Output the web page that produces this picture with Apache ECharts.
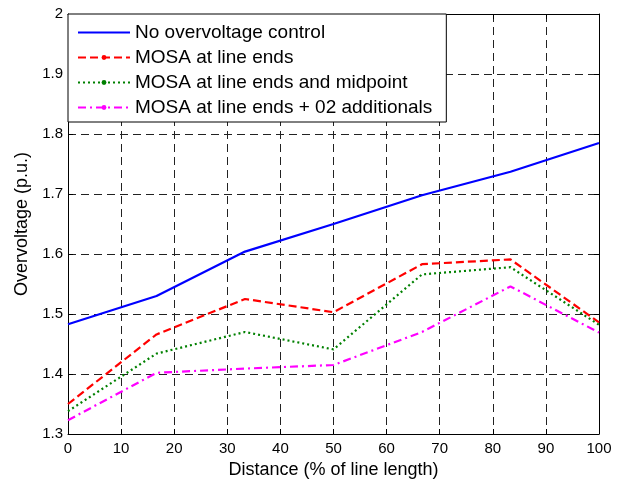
<!DOCTYPE html>
<html>
<head>
<meta charset="utf-8">
<script src="https://cdn.jsdelivr.net/npm/echarts@6/dist/echarts.min.js"></script>
<style>
  html, body { margin: 0; padding: 0; background: #fff; }
  #chart { width: 624px; height: 486px; }
</style>
</head>
<body>
<div id="chart"></div>
<script>
// Distance along the line (% of line length) for each measuring point
const distances = [0, 16.67, 33.33, 50, 66.67, 83.33, 100];

// Peak overvoltage (p.u.) per protection scheme
const noControl      = [1.483, 1.530, 1.604, 1.650, 1.698, 1.737, 1.785];
const mosaEnds       = [1.350, 1.466, 1.525, 1.503, 1.583, 1.591, 1.486];
const mosaEndsMid    = [1.338, 1.434, 1.470, 1.441, 1.566, 1.578, 1.482];
const mosaEndsPlus2  = [1.323, 1.402, 1.409, 1.415, 1.470, 1.546, 1.469];

const seriesNames = [
  'No overvoltage control',
  'MOSA at line ends',
  'MOSA at line ends and midpoint',
  'MOSA at line ends + 02 additionals'
];

const FONT = '"Liberation Sans", Arial, sans-serif';

function pairs(ys) {
  return distances.map((x, i) => [x, ys[i]]);
}

const gridDash = { color: '#222', width: 1, type: [8, 5] };

const chart = echarts.init(document.getElementById('chart'), null, { renderer: 'canvas' });

chart.setOption({
  animation: false,
  backgroundColor: '#fff',
  textStyle: { fontFamily: FONT, color: '#000' },
  grid: { left: 68, right: 25, top: 14, bottom: 52, containLabel: false },
  legend: {
    orient: 'vertical',
    left: 68,
    top: 14,
    padding: [9, 14, 5, 9],
    itemWidth: 52,
    itemHeight: 6,
    itemGap: 6,
    backgroundColor: '#fff',
    borderColor: '#000',
    borderWidth: 1,
    borderRadius: 0,
    textStyle: { fontFamily: FONT, fontSize: 19, color: '#000' },
    data: [
      // the solid line has no marker in its key
      { name: seriesNames[0], itemStyle: { opacity: 0 } },
      { name: seriesNames[1] },
      { name: seriesNames[2] },
      { name: seriesNames[3] }
    ]
  },
  xAxis: [
    {
      type: 'value',
      min: 0,
      max: 100,
      interval: 10,
      name: 'Distance (% of line length)',
      nameLocation: 'middle',
      nameGap: 24,
      nameTextStyle: { fontFamily: FONT, fontSize: 18, color: '#000' },
      axisLine: { show: true, onZero: false, lineStyle: { color: '#000', width: 1 } },
      axisTick: { show: true, inside: true, length: 5, lineStyle: { color: '#000' } },
      axisLabel: { fontFamily: FONT, fontSize: 15, color: '#000', margin: 7 },
      splitLine: { show: true, lineStyle: gridDash }
    },
    {
      type: 'value',
      position: 'top',
      min: 0,
      max: 100,
      interval: 10,
      axisLine: { show: true, onZero: false, lineStyle: { color: '#000', width: 1 } },
      axisTick: { show: true, inside: true, length: 5, lineStyle: { color: '#000' } },
      axisLabel: { show: false },
      splitLine: { show: false }
    }
  ],
  yAxis: [
    {
      type: 'value',
      min: 1.3,
      max: 2,
      interval: 0.1,
      name: 'Overvoltage (p.u.)',
      nameLocation: 'middle',
      nameGap: 33,
      nameTextStyle: { fontFamily: FONT, fontSize: 18, color: '#000' },
      axisLine: { show: true, onZero: false, lineStyle: { color: '#000', width: 1 } },
      axisTick: { show: true, inside: true, length: 5, lineStyle: { color: '#000' } },
      axisLabel: {
        fontFamily: FONT, fontSize: 15, color: '#000', margin: 5,
        formatter: v => String(+v.toFixed(1))
      },
      splitLine: { show: true, lineStyle: gridDash }
    },
    {
      type: 'value',
      position: 'right',
      min: 1.3,
      max: 2,
      interval: 0.1,
      axisLine: { show: true, onZero: false, lineStyle: { color: '#000', width: 1 } },
      axisTick: { show: true, inside: true, length: 5, lineStyle: { color: '#000' } },
      axisLabel: { show: false },
      splitLine: { show: false }
    }
  ],
  series: [
    {
      name: seriesNames[0],
      type: 'line',
      data: pairs(noControl),
      symbol: 'none',
      color: '#0000ff',
      lineStyle: { color: '#0000ff', width: 2.2, type: 'solid' }
    },
    {
      name: seriesNames[1],
      type: 'line',
      data: pairs(mosaEnds),
      symbol: 'circle',
      symbolSize: 5,
      showSymbol: false,
      color: '#ff0000',
      lineStyle: { color: '#ff0000', width: 2.2, type: [8, 4] }
    },
    {
      name: seriesNames[2],
      type: 'line',
      data: pairs(mosaEndsMid),
      symbol: 'circle',
      symbolSize: 5,
      showSymbol: false,
      color: '#008000',
      lineStyle: { color: '#008000', width: 2.2, type: [2, 3] }
    },
    {
      name: seriesNames[3],
      type: 'line',
      data: pairs(mosaEndsPlus2),
      symbol: 'circle',
      symbolSize: 5,
      showSymbol: false,
      color: '#ff00ff',
      lineStyle: { color: '#ff00ff', width: 2.2, type: [8, 4, 2, 4] }
    }
  ]
});
</script>
</body>
</html>
